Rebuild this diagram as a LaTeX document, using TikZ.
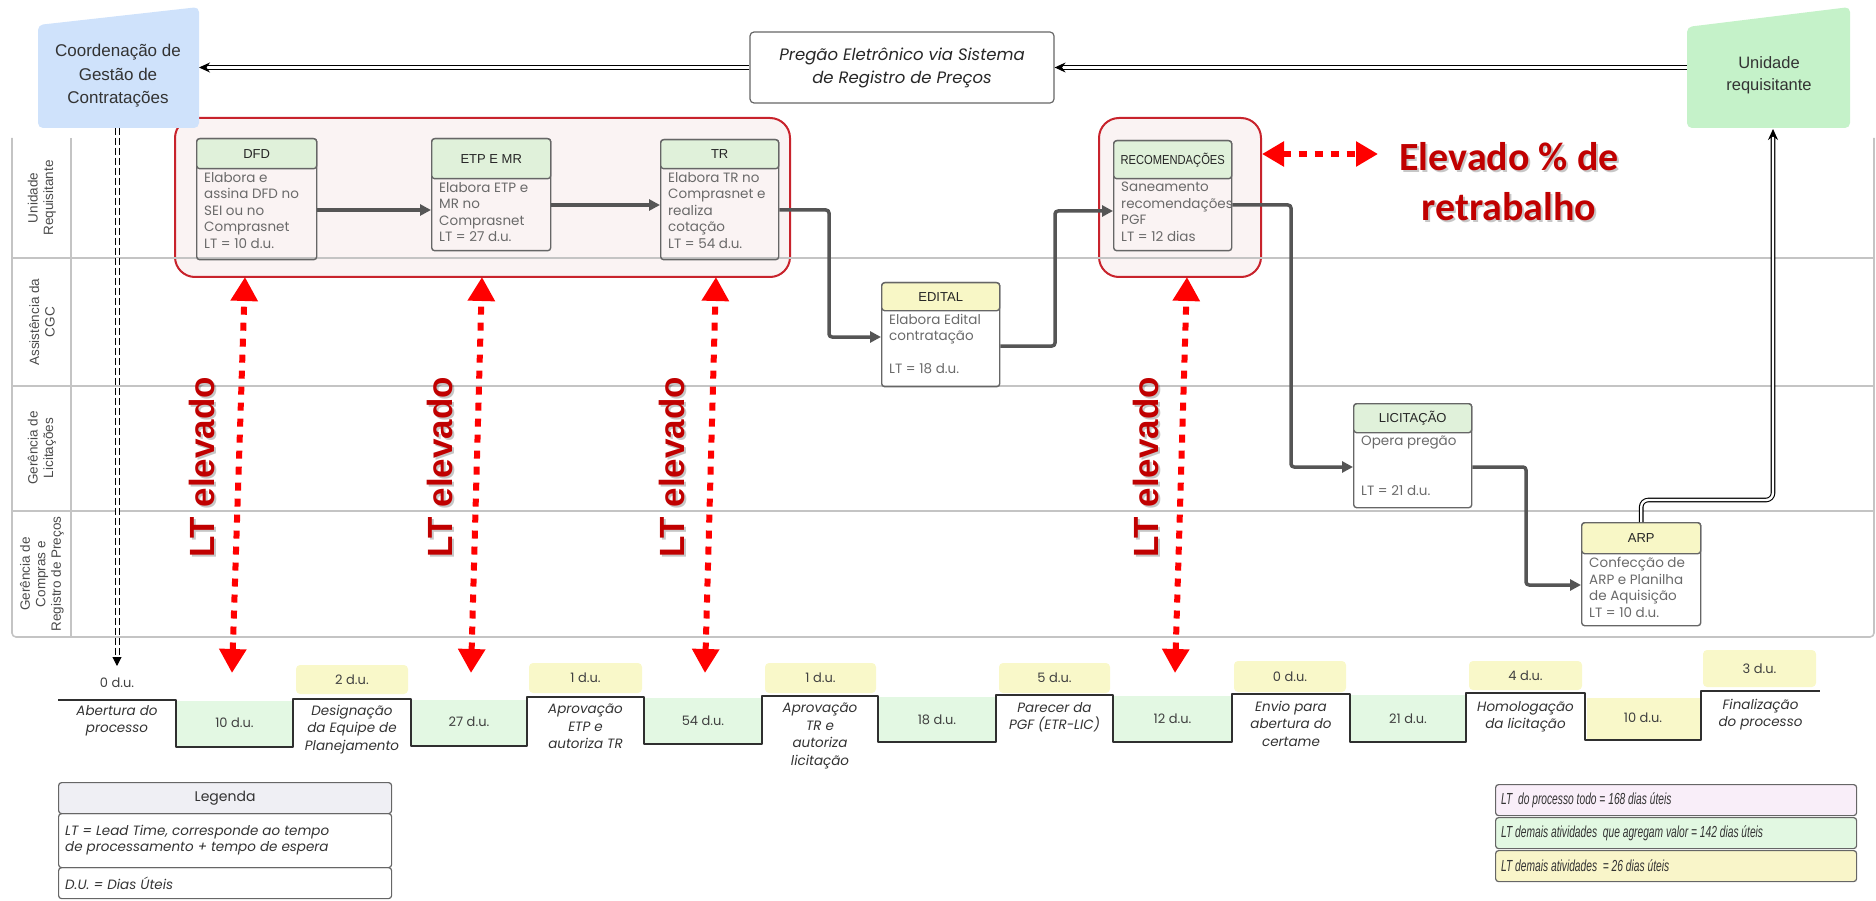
\documentclass[tikz,border=0pt]{standalone}
\usepackage{fontspec}
\setmainfont{Liberation Sans}
\newfontfamily\geo{Poppins}
\newfontfamily\calib{Carlito}
\usetikzlibrary{arrows.meta,calc}

\definecolor{zonered}{HTML}{C8232C}
\definecolor{zonefill}{HTML}{FAF3F3}
\definecolor{alertred}{HTML}{C00000}
\definecolor{arrowred}{HTML}{FF0000}
\definecolor{tlgreen}{HTML}{E3F8E3}
\definecolor{tlyellow}{HTML}{F9F8C9}
\definecolor{hdrgreen}{HTML}{E0F1DA}
\definecolor{hdryellow}{HTML}{F8F7C6}
\definecolor{cgcblue}{HTML}{CFE2FB}
\definecolor{ureqgreen}{HTML}{C5F2C9}
\definecolor{lanegray}{HTML}{C4C4C4}
\definecolor{labgray}{HTML}{4A4A4A}
\definecolor{boxgray}{HTML}{666666}
\definecolor{flowgray}{HTML}{555555}
\definecolor{bodygray}{HTML}{6A6A6A}
\definecolor{stepdark}{HTML}{2F2F2F}
\definecolor{leggray}{HTML}{EFEFF4}
\definecolor{lgpink}{HTML}{F9EEF9}
\definecolor{lggreen}{HTML}{E2F8E2}
\definecolor{lgyellow}{HTML}{F9F5C9}

\newcommand\fsz[2]{\fontsize{#1}{#2}\selectfont}

% process box: name, left, top, width, height, header height, header colour, title, body
\newcommand\procbox[9]{%
  \node[frame, minimum width=#4pt, minimum height=#5pt, anchor=north west] (#1) at (#2,#3) {};
  \node[head, fill=#7, minimum width=#4pt, minimum height=#6pt, anchor=north west] (#1-head) at (#1.north west) {#8};
  \node[body, anchor=north west] (#1-text) at ([shift={(8pt,-#6pt-4pt)}]#1.north west) {#9};
}

\begin{document}
\begin{tikzpicture}[x=1pt,y=-1pt,line join=round,
  lanerule/.style={draw=lanegray, line width=1.6pt},
  lanelabel/.style={rotate=90, align=center, font=\fsz{13.5}{15.5}, text=labgray, inner sep=0pt},
  zone/.style={draw=zonered, line width=2pt, fill=zonefill, rounded corners=20pt, inner sep=0pt},
  frame/.style={draw=boxgray, line width=1.4pt, rounded corners=3pt, inner sep=0pt},
  head/.style={draw=boxgray, line width=1.4pt, rounded corners=3pt, inner sep=0pt, font=\fsz{13}{14}, text=black!85},
  body/.style={align=left, inner sep=0pt, font=\geo\fsz{13.5}{16.5}, text=bodygray},
  flow/.style={draw=flowgray, line width=3.5pt, rounded corners=3pt, -{Triangle[length=11pt,width=11pt]}},
  dbl/.style={draw=black, line width=1.1pt, double=white, double distance=2.4pt, rounded corners=7pt, -{Stealth[length=11pt,width=10pt]}},
  ddash/.style={draw=black, line width=1pt, double=white, double distance=3pt, dash pattern=on 7pt off 3pt, -{Triangle[length=9pt,width=9pt]}},
  reddot/.style={draw=arrowred, line width=6pt, dash pattern=on 8pt off 8pt, {Triangle[length=24pt,width=26pt]}-{Triangle[length=24pt,width=26pt]}},
  alert/.style={text=alertred, font=\bfseries\fsz{35}{40}, inner sep=0pt},
  alertshadow/.style={text=black, opacity=0.22, font=\bfseries\fsz{35}{40}, inner sep=0pt},
  stepline/.style={draw=stepdark, line width=2.4pt},
  ybox/.style={fill=tlyellow, rounded corners=4pt, inner sep=0pt, font=\geo\fsz{13}{15}, text=black!75},
  stepname/.style={align=center, inner sep=0pt, anchor=north, font=\geo\itshape\fsz{13.5}{17.5}, text=black!80},
  dulabel/.style={inner sep=0pt, font=\geo\fsz{13}{15}, text=black!75},
  legcell/.style={draw=boxgray, line width=1.2pt, rounded corners=3pt, inner sep=0pt},
  legtext/.style={align=left, inner sep=0pt, anchor=west, font=\geo\itshape\fsz{13.5}{16}, text=black!80},
  sumtext/.style={inner sep=0pt, anchor=west, font=\itshape\fsz{16}{17}, text=black!80}
]
\useasboundingbox (0,0) rectangle (1876,901);

% ---------- highlighted zones ----------
\node[zone, minimum width=615pt, minimum height=159pt, anchor=north west] (zoneA) at (174,117) {};
\node[zone, minimum width=162pt, minimum height=159pt, anchor=north west] (zoneB) at (1098,117) {};

% ---------- swimlanes ----------
\draw[lanerule, rounded corners=4pt] (12,138) -- (12,637) -- (1874,637) -- (1874,138);
\draw[lanerule] (12,258) -- (1874,258);
\draw[lanerule] (12,386) -- (1874,386);
\draw[lanerule] (12,511) -- (1874,511);
\draw[lanerule] (71,138) -- (71,637);
\node[lanelabel] (lane1) at (42,198) {Unidade\\Requisitante};
\node[lanelabel] (lane2) at (42,322) {Assistência da\\CGC};
\node[lanelabel] (lane3) at (42,448) {Gerência de\\Licitações};
\node[lanelabel] (lane4) at (42,574) {Gerência de\\Compras e\\Registro de Preços};

% ---------- top actors ----------
\fill[cgcblue, rounded corners=5pt] (38,25) -- (199,7) -- (199,128) -- (38,128) -- cycle;
\node[font=\fsz{17}{23.5}, text=black!80, align=center, inner sep=0pt] (cgc) at (118,76) {Coordenação de\\Gestão de\\Contratações};
\coordinate (cgcE) at (199,67.5);
\coordinate (cgcS) at (117,128);

\fill[ureqgreen, rounded corners=5pt] (1687,27) -- (1850,7) -- (1850,128) -- (1687,128) -- cycle;
\node[font=\fsz{16.5}{22}, text=black!80, align=center, inner sep=0pt] (ureq) at (1769,75) {Unidade\\requisitante};
\coordinate (ureqW) at (1687,67.5);
\coordinate (ureqS) at (1773,129);

\node[draw=boxgray, line width=1.2pt, rounded corners=4pt, minimum width=304pt, minimum height=71pt, align=center, font=\geo\itshape\fsz{16.5}{23}, text=black!85] (preg) at (902,67.5) {Pregão Eletrônico via Sistema\\de Registro de Preços};

\draw[dbl] (ureqW) -- (preg.east);
\draw[dbl] (preg.west) -- (cgcE);

% ---------- process boxes ----------
\procbox{dfd}{196}{138}{120}{121}{30}{hdrgreen}{DFD}{Elabora e\\assina DFD no\\SEI ou no\\Comprasnet\\LT = 10 d.u.}
\procbox{etp}{431}{138}{119}{112}{40}{hdrgreen}{ETP E MR}{Elabora ETP e\\MR no\\Comprasnet\\LT = 27 d.u.}
\procbox{tr}{660}{139}{118}{120}{29}{hdrgreen}{TR}{Elabora TR no\\Comprasnet e\\realiza\\cotação\\LT = 54 d.u.}
\procbox{rec}{1113}{140}{118}{110}{38}{hdrgreen}{\scalebox{0.86}[1]{RECOMENDAÇÕES}}{Saneamento\\recomendações\\PGF\\LT = 12 dias}
\procbox{edital}{881}{282}{118}{104}{28}{hdryellow}{EDITAL}{Elabora Edital\\contratação\\[16.5pt]LT = 18 d.u.}
\procbox{lic}{1353}{403}{118}{104}{29}{hdrgreen}{LICITAÇÃO}{Opera pregão\\[33pt]LT = 21 d.u.}
\procbox{arp}{1581}{522}{119}{103}{31}{hdryellow}{ARP}{Confecção de\\ARP e Planilha\\de Aquisição\\LT = 10 d.u.}

% ---------- process flow ----------
\draw[flow] (dfd.east |- 0,210) -- (etp.west |- 0,210);
\draw[flow] (etp.east |- 0,205) -- (tr.west |- 0,205);
\draw[flow] (tr.east |- 0,210) -| (829,337) -- (edital.west |- 0,337);
\draw[flow] (edital.east |- 0,346) -| (1055,211) -- (rec.west |- 0,211);
\draw[flow] (rec.east |- 0,205) -| (1291,467) -- (lic.west |- 0,467);
\draw[flow] (lic.east |- 0,467) -| (1526,585) -- (arp.west |- 0,585);
\draw[dbl] (arp.north) -- (arp.north |- 0,500) -| (ureqS);

% ---------- start marker ----------
\coordinate (zeroTop) at (117,666);
\draw[ddash] (cgcS) -- (zeroTop);

% ---------- lead-time alerts ----------
\coordinate (a1t) at (245,277); \coordinate (a1b) at (232,673);
\coordinate (a2t) at (482,277); \coordinate (a2b) at (471,673);
\coordinate (a3t) at (716,277); \coordinate (a3b) at (705,673);
\coordinate (a4t) at (1187,277); \coordinate (a4b) at (1175,673);
\foreach \k in {1,2,3,4}{\draw[reddot] (a\k b) -- (a\k t);}
\foreach \k/\xx in {1/202,2/440,3/672,4/1146}{
  \node[alertshadow, rotate=90] (lt\k-shadow) at (\xx+2,469) {LT elevado};
  \node[alert, rotate=90] (lt\k) at (\xx,467) {LT elevado};
}
\node[alertshadow, align=center, font=\calib\bfseries\fsz{40}{50}] (rework-shadow) at (1511,184) {Elevado \% de\\retrabalho};
\node[alert, align=center, font=\calib\bfseries\fsz{40}{50}] (rework) at (1509,182) {Elevado \% de\\retrabalho};
\coordinate (reworkW) at (1378,154);
\draw[reddot, {Triangle[length=22pt,width=24pt]}-{Triangle[length=22pt,width=24pt]}] (zoneB.east |- 0,154) -- (reworkW);

% ---------- timeline ----------
\fill[tlgreen] (177,701) rectangle (292,746);
\fill[tlgreen] (412,700) rectangle (526,745);
\fill[tlgreen] (645,698) rectangle (761,743);
\fill[tlgreen] (879,697) rectangle (995,741);
\fill[tlgreen] (1114,696) rectangle (1231,741);
\fill[tlgreen] (1351,695) rectangle (1465,741);
\fill[tlyellow] (1587,698) rectangle (1700,739);
\draw[stepline] (58,700) -- (176,700) -- (176,747) -- (293,747) -- (293,699) -- (411,699)
  -- (411,746) -- (527,746) -- (527,697) -- (644,697) -- (644,744) -- (762,744)
  -- (762,696) -- (878,696) -- (878,742) -- (996,742) -- (996,695) -- (1113,695)
  -- (1113,742) -- (1232,742) -- (1232,694) -- (1350,694) -- (1350,742) -- (1466,742)
  -- (1466,693) -- (1585,693) -- (1585,740) -- (1701,740) -- (1701,691) -- (1820,691);

\node[dulabel] (w1) at (117,683) {0 d.u.};
\node[ybox, minimum width=112pt, minimum height=29pt] (w2) at (352,679.5) {2 d.u.};
\node[ybox, minimum width=113pt, minimum height=30pt] (w3) at (585.5,678) {1 d.u.};
\node[ybox, minimum width=111pt, minimum height=30pt] (w4) at (820.5,678) {1 d.u.};
\node[ybox, minimum width=111pt, minimum height=30pt] (w5) at (1054.5,678) {5 d.u.};
\node[ybox, minimum width=112pt, minimum height=31pt] (w6) at (1290,676.5) {0 d.u.};
\node[ybox, minimum width=113pt, minimum height=29pt] (w7) at (1525.5,675.5) {4 d.u.};
\node[ybox, minimum width=113pt, minimum height=37pt] (w8) at (1759.5,668.5) {3 d.u.};

\node[stepname] (s1) at (117,705) {Abertura do\\processo};
\node[stepname] (s2) at (352,705) {Designação\\da Equipe de\\Planejamento};
\node[stepname] (s3) at (585.5,704) {Aprovação\\ETP e\\autoriza TR};
\node[stepname] (s4) at (820,703) {Aprovação\\TR e\\autoriza\\licitação};
\node[stepname] (s5) at (1054.5,702) {Parecer da\\PGF (ETR-LIC)};
\node[stepname] (s6) at (1291,701) {Envio para\\abertura do\\certame};
\node[stepname] (s7) at (1525.5,701) {Homologação\\da licitação};
\node[stepname] (s8) at (1760.5,699) {Finalização\\do processo};

\node[dulabel] (d1) at (234.5,723) {10 d.u.};
\node[dulabel] (d2) at (469,722) {27 d.u.};
\node[dulabel] (d3) at (703,721) {54 d.u.};
\node[dulabel] (d4) at (937,720) {18 d.u.};
\node[dulabel] (d5) at (1172.5,719) {12 d.u.};
\node[dulabel] (d6) at (1408,719) {21 d.u.};
\node[dulabel] (d7) at (1643,718) {10 d.u.};

% ---------- legend ----------
\node[legcell, fill=leggray, minimum width=333pt, minimum height=31pt, anchor=north west, font=\geo\fsz{14}{16}, text=black!80] (legh) at (58,782) {Legenda};
\node[legcell, minimum width=333pt, minimum height=54pt, anchor=north west] (leg1) at (58,813) {};
\node[legtext] (leg1-text) at ([xshift=7pt]leg1.west) {LT = Lead Time, corresponde ao tempo\\de processamento + tempo de espera};
\node[legcell, minimum width=333pt, minimum height=31pt, anchor=north west] (leg2) at (58,867) {};
\node[legtext] (leg2-text) at ([xshift=7pt]leg2.west) {D.U. = Dias Úteis};

% ---------- lead-time summary ----------
\node[legcell, fill=lgpink, minimum width=361pt, minimum height=31pt, anchor=north west] (sum1) at (1495,784) {};
\node[sumtext] (sum1-text) at ([xshift=6pt]sum1.west) {\scalebox{0.64}[1]{LT\ \ do processo todo = 168 dias úteis}};
\node[legcell, fill=lggreen, minimum width=361pt, minimum height=31pt, anchor=north west] (sum2) at (1495,817) {};
\node[sumtext] (sum2-text) at ([xshift=6pt]sum2.west) {\scalebox{0.64}[1]{LT demais atividades\ \ que agregam valor = 142 dias úteis}};
\node[legcell, fill=lgyellow, minimum width=361pt, minimum height=31pt, anchor=north west] (sum3) at (1495,850) {};
\node[sumtext] (sum3-text) at ([xshift=6pt]sum3.west) {\scalebox{0.64}[1]{LT demais atividades\ \ = 26 dias úteis}};
\end{tikzpicture}
\end{document}
